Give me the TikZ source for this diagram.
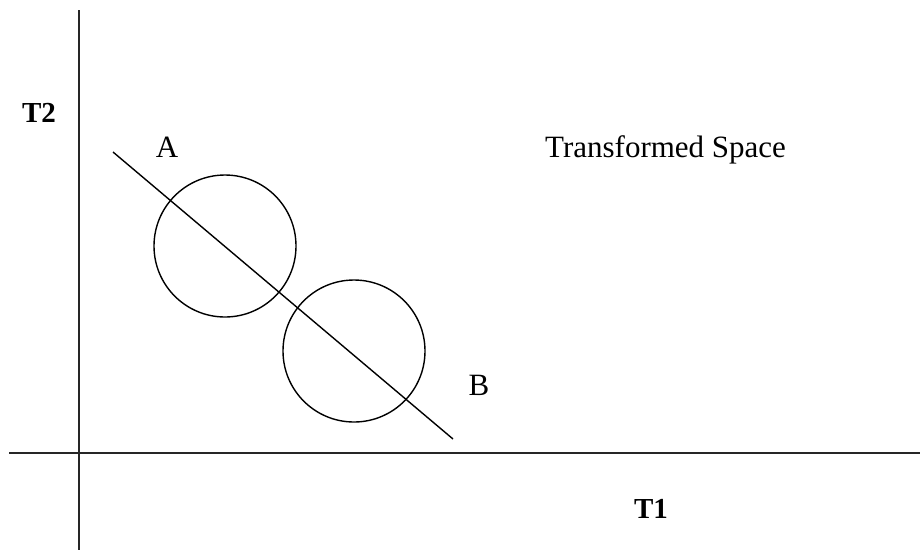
\documentclass[tikz,border=0pt]{standalone}
\usepackage{fontspec}
\setmainfont{Liberation Serif}
\begin{document}
\begin{tikzpicture}[x=1pt,y=-1pt,
  axis/.style={line width=2pt,black!85},
  curve/.style={line width=1.4pt,black},
  lbl/.style={inner sep=0pt,anchor=base,font=\fontsize{31}{36}\selectfont},
  blbl/.style={inner sep=0pt,anchor=base,font=\fontsize{29}{34}\selectfont\bfseries},
  ring/.style={draw,circle,line width=1.4pt,minimum size=142pt,inner sep=0pt}]
\useasboundingbox (0,0) rectangle (920,550);
% axes
\coordinate (ytop) at (79,10);
\coordinate (ybot) at (79,550);
\coordinate (xl) at (9,453);
\coordinate (xr) at (920,453);
\draw[axis] (ytop) -- (ybot);
\draw[axis] (xl) -- (xr);
% circles
\node[ring] (c1) at (225,246) {};
\node[ring] (c2) at (354,351) {};
% line
\coordinate (la) at (113,152);
\coordinate (lb) at (453,439);
\draw[curve] (la) -- (lb);
% labels
\node[blbl] (t2) at (39,122) {T2};
\node[blbl] (t1) at (651,518) {T1};
\node[lbl] (a) at (167,157) {A};
\node[lbl] (b) at (479,395) {B};
\node[lbl,anchor=base west] (ts) at (545,157) {Transformed Space};
\end{tikzpicture}
\end{document}
